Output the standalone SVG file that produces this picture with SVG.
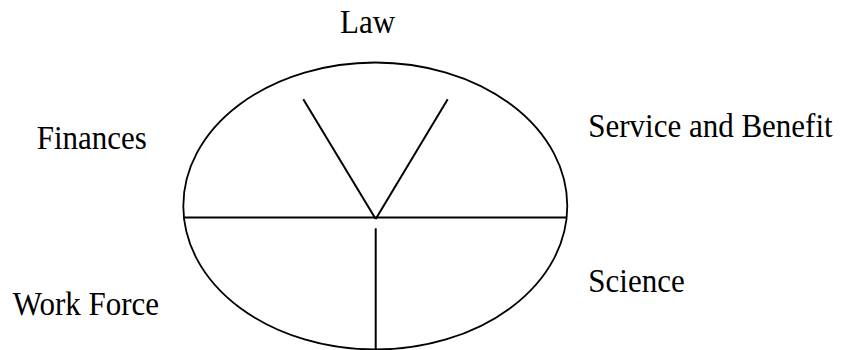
<svg xmlns="http://www.w3.org/2000/svg" width="843" height="350" viewBox="0 0 843 350">
<style>
.lbl{font-family:"Liberation Serif","Times New Roman",serif;font-size:31px;fill:#000}
.ln{stroke:#000;stroke-width:2;fill:none;stroke-linecap:butt}
</style>
<rect width="843" height="350" fill="#fff"/>
<g id="wheel">
<ellipse cx="375.3" cy="206" rx="192" ry="143.5" fill="none" stroke="#000" stroke-width="1.8"/>
</g>
<g id="connectors">
<line class="ln" x1="183.5" y1="217.5" x2="567" y2="217.5"/>
<line class="ln" x1="303.3" y1="99.3" x2="375.7" y2="219"/>
<line class="ln" x1="447.7" y1="99.3" x2="375.7" y2="219"/>
<line class="ln" x1="375.7" y1="228.3" x2="375.7" y2="350"/>
</g>
<g id="law"><text class="lbl" transform="translate(340,32.7) scale(1,1.08)">Law</text></g>
<g id="finances"><text class="lbl" transform="translate(36.7,149) scale(1,1.08)">Finances</text></g>
<g id="service"><text class="lbl" transform="translate(588.3,137.3) scale(1,1.08)">Service and Benefit</text></g>
<g id="workforce"><text class="lbl" transform="translate(12.7,315) scale(1,1.08)">Work Force</text></g>
<g id="science"><text class="lbl" transform="translate(588.3,292.3) scale(1,1.08)">Science</text></g>
</svg>
